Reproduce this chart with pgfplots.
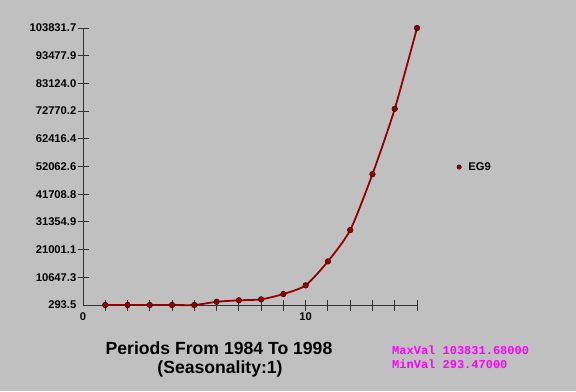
\documentclass[border=0pt]{standalone}
\usepackage{pgfplots}
\pgfplotsset{compat=1.18}
\usepackage{fontspec}
\setmainfont{Liberation Sans}
\newfontfamily\monofont{Liberation Mono}
\definecolor{bg}{RGB}{192,192,192}
\definecolor{lineRed}{RGB}{150,0,0}
\definecolor{axisGray}{RGB}{50,50,50}
\definecolor{mag}{RGB}{255,0,255}
\begin{document}
\begin{tikzpicture}[x=1bp,y=1bp]
\fill[bg] (0,0) rectangle (576,391);
\begin{axis}[
  at={(83bp,86bp)}, anchor=south west,
  scale only axis, width=334bp, height=277bp,
  xmin=0, xmax=15, ymin=293.47, ymax=103831.68,
  axis lines=left, axis line style={-, axisGray, line width=0.9bp},
  tick align=center, major tick length=11bp,
  tick style={axisGray, line width=0.9bp},
  xtick={1,...,15}, xticklabels={},
  extra x ticks={0,10}, extra x tick labels={0,10},
  extra x tick style={major tick length=0pt},
  ytick={10647.291,21001.112,31354.933,41708.754,52062.575,62416.396,72770.217,83124.038,93477.859,103831.68},
  yticklabels={10647.3,21001.1,31354.9,41708.8,52062.6,62416.4,72770.2,83124.0,93477.9,103831.7},
  extra y ticks={293.47}, extra y tick labels={293.5},
  extra y tick style={major tick length=0pt, yticklabel style={xshift=-5.5bp}},
  yticklabel style={font=\fontsize{11.2bp}{13bp}\selectfont\bfseries, inner sep=1bp},
  xticklabel style={font=\fontsize{11.2bp}{13bp}\selectfont\bfseries, inner sep=1bp, yshift=-6bp},
  scaled y ticks=false,
  /pgf/number format/assume math mode=true,
  clip=false,
  legend style={at={(rel axis cs:1.11,0.498)}, anchor=west, draw=none, fill=none,
    font=\fontsize{11.2bp}{13bp}\selectfont\bfseries},
  legend image code/.code={\draw[#1, mark size=2.2bp] plot[mark=*] coordinates {(0.2cm,0cm)};},
]
\addplot[lineRed, line width=1.8bp, smooth, tension=0.4,
  mark=*, mark size=2.8bp, mark options={fill=lineRed, draw=black!70!lineRed, line width=0.5bp}]
  coordinates {
  (1,293.47) (2,293.47) (3,293.47) (4,293.47) (5,293.47)
  (6,1500) (7,2050) (8,2400) (9,4400) (10,7650)
  (11,16600) (12,28300) (13,49200) (14,73600) (15,103831.68)
  };
\addlegendentry{\hspace{5bp}EG9}
\end{axis}
\node[anchor=base, font=\fontsize{17.6bp}{20bp}\selectfont\bfseries] at (219,37) {Periods From 1984 To 1998};
\node[anchor=base, font=\fontsize{17.6bp}{20bp}\selectfont\bfseries] at (220,18) {(Seasonality:1)};
\node[anchor=base west, inner sep=0, text=mag, font=\fontsize{12bp}{14bp}\selectfont\monofont\bfseries] at (392,37) {MaxVal 103831.68000};
\node[anchor=base west, inner sep=0, text=mag, font=\fontsize{12bp}{14bp}\selectfont\monofont\bfseries] at (392,23) {MinVal 293.47000};
\end{tikzpicture}
\end{document}
